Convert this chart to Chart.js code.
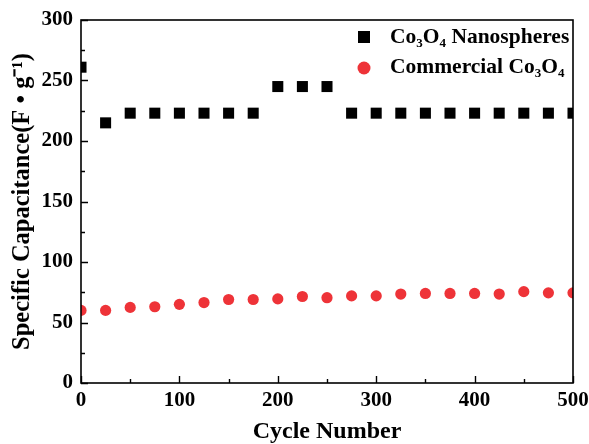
<!DOCTYPE html>
<html>
<head>
<meta charset="utf-8">
<script src="https://cdn.jsdelivr.net/npm/chart.js@4/dist/chart.umd.min.js"></script>
<style>
  html, body { margin: 0; padding: 0; background: #fff; }
  #wrap { width: 589px; height: 444px; }
</style>
</head>
<body>
<div id="wrap"><canvas id="c" width="589" height="444"></canvas></div>
<script>
const cycles = [0, 25, 50, 75, 100, 125, 150, 175, 200, 225, 250, 275, 300, 325, 350, 375, 400, 425, 450, 475, 500];
const nanospheres = [261, 215, 223, 223, 223, 223, 223, 223, 245, 245, 245, 223, 223, 223, 223, 223, 223, 223, 223, 223, 223];
const commercial = [60, 60, 62.5, 63, 65, 66.5, 69, 69, 69.5, 71.5, 70.5, 72, 72, 73.5, 74, 74, 74, 73.5, 75.5, 74.5, 74.5];
const xTickLabels = ['0', '100', '200', '300', '400', '500'];
const yTickLabels = ['0', '50', '100', '150', '200', '250', '300'];

const SERIF = '"Liberation Serif", "Times New Roman", serif';
const RED = '#EE3338';

function pts(vals) { return cycles.map((c, i) => ({ x: c, y: vals[i] })); }

function drawRich(ctx, x, y, segs, size) {
  let cx = x;
  segs.forEach(s => {
    const sub = s.sub;
    const fs = sub ? Math.round(size * 0.62) : size;
    ctx.font = 'bold ' + fs + 'px ' + SERIF;
    ctx.fillText(s.t, cx, sub ? y + size * 0.32 : y);
    cx += ctx.measureText(s.t).width;
  });
}

const framePlugin = {
  id: 'frame',
  afterDatasetsDraw(chart) {
    const { ctx, chartArea: a, scales: { x, y } } = chart;
    ctx.save();
    ctx.strokeStyle = '#000';
    ctx.lineWidth = 1.6;
    ctx.strokeRect(a.left, a.top, a.right - a.left, a.bottom - a.top);
    ctx.lineWidth = 1.4;
    ctx.beginPath();
    x.ticks.forEach(t => {
      const px = Math.round(x.getPixelForValue(t.value)) + 0.5;
      const len = (t.value % 100 === 0) ? 7 : 4;
      ctx.moveTo(px, a.bottom); ctx.lineTo(px, a.bottom - len);
    });
    y.ticks.forEach(t => {
      const py = Math.round(y.getPixelForValue(t.value)) + 0.5;
      const len = (t.value % 50 === 0) ? 7 : 4;
      ctx.moveTo(a.left, py); ctx.lineTo(a.left + len, py);
    });
    ctx.stroke();

    // legend
    ctx.fillStyle = '#000';
    ctx.fillRect(358, 31, 12, 12);
    ctx.fillStyle = RED;
    ctx.beginPath(); ctx.arc(364, 68, 6.5, 0, Math.PI * 2); ctx.fill();
    ctx.fillStyle = '#000';
    ctx.textBaseline = 'middle';
    ctx.textAlign = 'left';
    drawRich(ctx, 390, 37, [{ t: 'Co' }, { t: '3', sub: true }, { t: 'O' }, { t: '4', sub: true }, { t: ' Nanospheres' }], 21.5);
    drawRich(ctx, 390, 67, [{ t: 'Commercial Co' }, { t: '3', sub: true }, { t: 'O' }, { t: '4', sub: true }], 21.5);
    ctx.restore();
  }
};

new Chart(document.getElementById('c'), {
  type: 'scatter',
  data: {
    datasets: [
      {
        label: 'Co₃O₄ Nanospheres',
        data: pts(nanospheres),
        pointStyle: 'rect',
        pointRadius: 7.8,
        pointHoverRadius: 7.8,
        backgroundColor: '#000',
        borderWidth: 0,
        clip: 0
      },
      {
        label: 'Commercial Co₃O₄',
        data: pts(commercial),
        pointStyle: 'circle',
        pointRadius: 5.6,
        pointHoverRadius: 5.6,
        backgroundColor: RED,
        borderWidth: 0,
        clip: 0
      }
    ]
  },
  options: {
    responsive: false,
    animation: false,
    devicePixelRatio: 1,
    layout: { padding: { top: 20, right: 16, left: 0, bottom: 0 } },
    plugins: { legend: { display: false }, tooltip: { enabled: false } },
    scales: {
      x: {
        type: 'linear', min: 0, max: 500,
        grid: { display: false, drawTicks: false },
        border: { display: false },
        ticks: {
          stepSize: 50, padding: 5, color: '#000', maxRotation: 0, autoSkip: false,
          font: { family: SERIF, size: 21, weight: 'bold' },
          callback: v => xTickLabels.includes(String(v)) ? String(v) : ''
        },
        title: {
          display: true, text: 'Cycle Number', color: '#000',
          font: { family: SERIF, size: 24, weight: 'bold', lineHeight: 1.0 },
          padding: { top: 0, bottom: 0 }
        },
        afterFit: s => { s.height = 61; s.paddingLeft = 0; s.paddingRight = 0; }
      },
      y: {
        type: 'linear', min: 0, max: 300,
        grid: { display: false, drawTicks: false },
        border: { display: false },
        ticks: {
          stepSize: 25, padding: 8, color: '#000', autoSkip: false,
          font: { family: SERIF, size: 21, weight: 'bold' },
          callback: v => yTickLabels.includes(String(v)) ? String(v) : ''
        },
        title: {
          display: true, text: 'Specific Capacitance(F • g⁻¹)', color: '#000',
          font: { family: SERIF, size: 24.5, weight: 'bold', lineHeight: 1.0 },
          padding: { top: 10, bottom: 0 }
        },
        afterFit: s => { s.width = 81; s.paddingTop = 0; s.paddingBottom = 0; }
      }
    }
  },
  plugins: [framePlugin]
});
</script>
</body>
</html>
